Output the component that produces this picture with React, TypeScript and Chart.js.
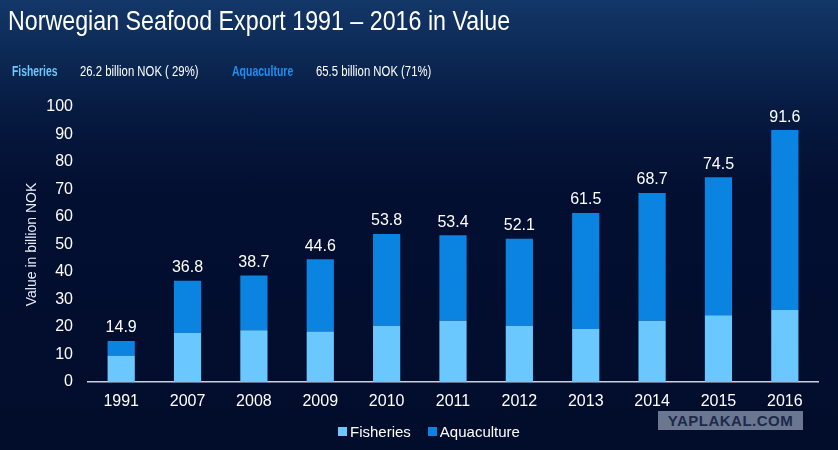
import { useEffect, useRef } from 'react'
import { Chart, registerables } from 'chart.js'

Chart.register(...registerables)

const years = ['1991', '2007', '2008', '2009', '2010', '2011', '2012', '2013', '2014', '2015', '2016']
const fisheries = [9.6, 17.8, 18.8, 18.4, 20.5, 22.3, 20.5, 19.3, 22.3, 24.3, 26.2]
const aquaculture = [5.3, 19.0, 19.9, 26.2, 33.3, 31.1, 31.6, 42.2, 46.4, 50.2, 65.4]
const totals = [14.9, 36.8, 38.7, 44.6, 53.8, 53.4, 52.1, 61.5, 68.7, 74.5, 91.6]
const yTicks = [0, 10, 20, 30, 40, 50, 60, 70, 80, 90, 100]

const FISH = '#6ac8ff'
const AQUA = '#0a84e0'
const FONT = '"Liberation Sans", Arial, sans-serif'

// draws the total above each stacked bar
const totalsPlugin = {
  id: 'totals',
  afterDatasetsDraw(chart: Chart) {
    const { ctx, scales } = chart
    const meta = chart.getDatasetMeta(1)
    ctx.save()
    ctx.fillStyle = '#ffffff'
    ctx.font = `16px ${FONT}`
    ctx.textAlign = 'center'
    ctx.textBaseline = 'bottom'
    meta.data.forEach((bar: any, i: number) => {
      const y = scales.y.getPixelForValue(fisheries[i] + aquaculture[i])
      ctx.fillText(totals[i].toFixed(1), bar.x, y - 5)
    })
    ctx.restore()
  },
}

export default function App() {
  const canvasRef = useRef<HTMLCanvasElement>(null)

  useEffect(() => {
    if (!canvasRef.current) return
    const chart = new Chart(canvasRef.current, {
      type: 'bar',
      data: {
        labels: years,
        datasets: [
          { label: 'Fisheries', data: fisheries, backgroundColor: FISH, stack: 's' },
          { label: 'Aquaculture', data: aquaculture, backgroundColor: AQUA, stack: 's' },
        ],
      },
      options: {
        animation: false,
        responsive: false,
        layout: { padding: { left: 8, right: 20, top: 107, bottom: 38 } },
        datasets: { bar: { categoryPercentage: 1, barPercentage: 0.41 } },
        plugins: { legend: { display: false }, tooltip: { enabled: false } },
        scales: {
          x: {
            stacked: true,
            grid: { display: false, drawTicks: false },
            border: { display: true, color: '#c9d1de', width: 1.5 },
            ticks: { color: '#ffffff', font: { size: 16, family: FONT }, padding: 10 },
            afterFit: (s: any) => { s.height = 30 },
          },
          y: {
            stacked: true,
            min: 0,
            max: 100,
            afterBuildTicks: (s: any) => { s.ticks = yTicks.map((v) => ({ value: v })) },
            grid: { display: false, drawTicks: false },
            border: { display: false },
            ticks: { color: '#ffffff', font: { size: 16, family: FONT }, padding: 15 },
            title: {
              display: true,
              text: 'Value in billion NOK',
              color: '#e8eef6',
              font: { size: 14, family: FONT },
              padding: { top: 16, bottom: 0 },
            },
            afterFit: (s: any) => { s.width = 80 },
          },
        },
      },
      plugins: [totalsPlugin],
    })
    return () => { chart.destroy() }
  }, [])

  return (
    <div
      style={{
        position: 'absolute',
        left: 0,
        top: 0,
        width: 838,
        height: 450,
        overflow: 'hidden',
        fontFamily: FONT,
        background:
          'linear-gradient(180deg, #133768 0%, #0c2955 12%, #06193f 26%, #030f31 42%, #020d2c 100%)',
      }}
    >
      <canvas ref={canvasRef} width={838} height={450} style={{ position: 'absolute', left: 0, top: 0 }} />

      {/* title */}
      <div
        style={{
          position: 'absolute', left: 8, top: 5, fontSize: 28, color: '#ffffff',
          whiteSpace: 'nowrap', transform: 'scaleX(0.83)', transformOrigin: 'left top',
        }}
      >
        Norwegian Seafood Export 1991 – 2016 in Value
      </div>

      {/* subtitle */}
      <div style={{ position: 'absolute', top: 63, left: 0, fontSize: 14, whiteSpace: 'nowrap' }}>
        <span style={{ position: 'absolute', left: 12, color: FISH, fontWeight: 'bold', transform: 'scaleX(0.74)', transformOrigin: 'left' }}>Fisheries</span>
        <span style={{ position: 'absolute', left: 80, color: '#ffffff', transform: 'scaleX(0.81)', transformOrigin: 'left' }}>26.2 billion NOK ( 29%)</span>
        <span style={{ position: 'absolute', left: 232, color: '#1e8ef0', fontWeight: 'bold', transform: 'scaleX(0.75)', transformOrigin: 'left' }}>Aquaculture</span>
        <span style={{ position: 'absolute', left: 316, color: '#ffffff', transform: 'scaleX(0.81)', transformOrigin: 'left' }}>65.5 billion NOK (71%)</span>
      </div>

      {/* legend */}
      <div style={{ position: 'absolute', top: 423, left: 338, fontSize: 15, color: '#ffffff', display: 'flex', alignItems: 'center', whiteSpace: 'nowrap' }}>
        <span style={{ width: 9, height: 9, background: FISH, display: 'inline-block', marginRight: 3 }} />
        <span>Fisheries</span>
        <span style={{ width: 9, height: 9, background: AQUA, display: 'inline-block', marginLeft: 17, marginRight: 3 }} />
        <span>Aquaculture</span>
      </div>

      {/* watermark */}
      <div
        style={{
          position: 'absolute', left: 658, top: 411, width: 145, height: 19,
          background: '#6b7790', color: '#1b2a4a', fontWeight: 'bold', fontSize: 15,
          textAlign: 'center', lineHeight: '19px', letterSpacing: 0.5,
        }}
      >
        YAPLAKAL.COM
      </div>
    </div>
  )
}
